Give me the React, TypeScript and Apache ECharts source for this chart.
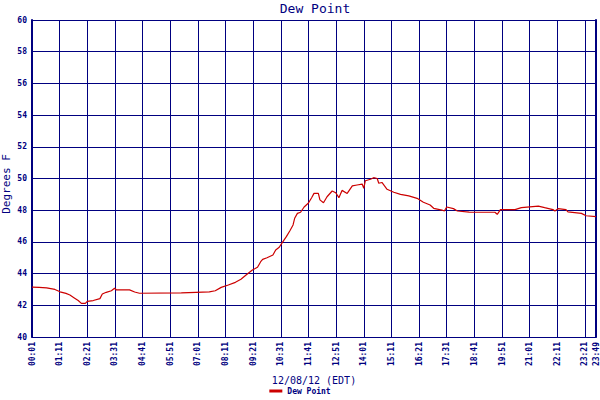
import React, { useEffect, useRef } from "react";
import * as echarts from "echarts";

// Readings (local time, °F)
const times = [
  "00:01", "00:19", "00:38", "00:59", "01:12", "01:27", "01:37", "01:49",
  "01:58", "02:06", "02:16", "02:21", "02:36", "02:53", "02:59", "03:09",
  "03:22", "03:30", "03:35", "04:08", "04:21", "04:33", "06:19", "06:56",
  "07:30", "07:45", "08:00", "08:18", "08:36", "08:50", "09:03", "09:19",
  "09:32", "09:40", "09:45", "09:56", "10:11", "10:18", "10:27", "10:35",
  "10:45", "10:54", "11:02", "11:06", "11:13", "11:21", "11:30", "11:41",
  "11:49", "11:55", "12:06", "12:10", "12:19", "12:28", "12:41", "12:50",
  "12:58", "13:06", "13:19", "13:32", "13:44", "13:57", "14:01", "14:05",
  "14:18", "14:26", "14:35", "14:39", "14:47", "15:00", "15:17", "15:34",
  "15:55", "16:16", "16:32", "16:49", "16:58", "17:19", "17:25", "17:31",
  "17:48", "17:58", "18:28", "19:33", "19:39", "19:47", "20:24", "20:32",
  "20:40", "21:23", "21:39", "22:00", "22:05", "22:13", "22:33", "22:38",
  "23:12", "23:24", "23:49",
];

const dewPoint = [
  43.15, 43.13, 43.1, 43.0, 42.85, 42.75, 42.65, 42.45,
  42.3, 42.12, 42.12, 42.25, 42.3, 42.42, 42.71, 42.82,
  42.92, 43.07, 42.97, 42.97, 42.84, 42.76, 42.78, 42.82,
  42.85, 42.92, 43.13, 43.28, 43.45, 43.64, 43.91, 44.23,
  44.4, 44.75, 44.9, 45.0, 45.17, 45.49, 45.66, 45.97,
  46.33, 46.7, 47.07, 47.49, 47.8, 47.87, 48.2, 48.45,
  48.79, 49.06, 49.06, 48.65, 48.47, 48.85, 49.21, 49.1,
  48.79, 49.25, 49.06, 49.53, 49.59, 49.65, 49.38, 49.86,
  49.95, 50.05, 50.0, 49.7, 49.75, 49.32, 49.13, 49.0,
  48.9, 48.75, 48.5, 48.33, 48.12, 48.01, 47.95, 48.2,
  48.1, 47.95, 47.88, 47.87, 47.74, 48.04, 48.04, 48.1,
  48.16, 48.26, 48.16, 48.04, 47.95, 48.1, 48.04, 47.9,
  47.8, 47.65, 47.59,
];

const yMin = 40;
const yMax = 60;
const yStep = 2;
const xStepMinutes = 70;
const startClock = "00:01";
const endClock = "23:49";

const NAVY = "#000080";
const MONO = "'DejaVu Sans Mono', 'Liberation Mono', monospace";

const toMinutes = (t: string) => {
  const [h, m] = t.split(":").map(Number);
  return h * 60 + m;
};
const startMin = toMinutes(startClock);
const toClock = (offset: number) => {
  const total = Math.round(offset) + startMin;
  const h = Math.floor(total / 60);
  const m = total % 60;
  return `${String(h).padStart(2, "0")}:${String(m).padStart(2, "0")}`;
};

const App: React.FC = () => {
  const chartRef = useRef<HTMLDivElement>(null);

  useEffect(() => {
    if (!chartRef.current) return;
    const chart = echarts.init(chartRef.current, null, { renderer: "svg" });

    const seriesData = times.map((t, i) => [toMinutes(t) - startMin, dewPoint[i]]);

    chart.setOption({
      animation: false,
      backgroundColor: "#ffffff",
      grid: { left: 32, right: 2, top: 20, bottom: 63, containLabel: false },
      graphic: [
        {
          type: "text",
          x: 315,
          y: 2,
          style: {
            text: "Dew Point",
            textAlign: "center",
            fill: NAVY,
            font: `13px ${MONO}`,
          },
        },
        {
          // y axis title, sits a little below the plot's middle as in the original
          type: "text",
          x: 6,
          y: 184,
          rotation: Math.PI / 2,
          style: {
            text: "Degrees F",
            textAlign: "center",
            textVerticalAlign: "middle",
            fill: NAVY,
            font: `11px ${MONO}`,
          },
        },
      ],
      legend: {
        bottom: 0,
        left: "center",
        icon: "rect",
        itemWidth: 13,
        itemHeight: 3,
        itemGap: 4,
        textStyle: { color: NAVY, fontFamily: MONO, fontSize: 8, fontWeight: "bold" },
        data: ["Dew Point"],
      },
      xAxis: {
        type: "value",
        min: 0,
        max: toMinutes(endClock) - startMin,
        interval: xStepMinutes,
        name: "12/08/12 (EDT)",
        nameLocation: "middle",
        nameGap: 38,
        nameTextStyle: { color: NAVY, fontFamily: MONO, fontSize: 10 },
        axisLine: { show: true, lineStyle: { color: NAVY, width: 1 } },
        axisTick: { show: false },
        splitLine: { show: true, lineStyle: { color: NAVY, width: 1 } },
        axisLabel: {
          rotate: 90,
          margin: 5,
          showMinLabel: true,
          showMaxLabel: true,
          color: NAVY,
          fontFamily: MONO,
          fontSize: 8,
          fontWeight: "bold",
          formatter: (v: number) => toClock(v),
        },
      },
      yAxis: [
        {
          type: "value",
          min: yMin,
          max: yMax,
          interval: yStep,
          axisLine: { show: true, lineStyle: { color: NAVY, width: 2 } },
          axisTick: { show: false },
          splitLine: { show: true, lineStyle: { color: NAVY, width: 1 } },
          axisLabel: {
            margin: 5,
            color: NAVY,
            fontFamily: MONO,
            fontSize: 8,
            fontWeight: "bold",
          },
        },
        {
          type: "value",
          position: "right",
          min: yMin,
          max: yMax,
          interval: yStep,
          axisLine: { show: true, lineStyle: { color: NAVY, width: 2 } },
          axisTick: { show: false },
          axisLabel: { show: false },
          splitLine: { show: false },
        },
      ],
      series: [
        {
          name: "Dew Point",
          type: "line",
          yAxisIndex: 0,
          data: seriesData,
          showSymbol: false,
          symbol: "none",
          itemStyle: { color: "#cc0000" },
          lineStyle: { color: "#cc0000", width: 1.2 },
        },
      ],
    });

    return () => chart.dispose();
  }, []);

  return (
    <div
      ref={chartRef}
      style={{ position: "fixed", left: 0, top: 0, width: 600, height: 400, background: "#fff" }}
    />
  );
};

export default App;
